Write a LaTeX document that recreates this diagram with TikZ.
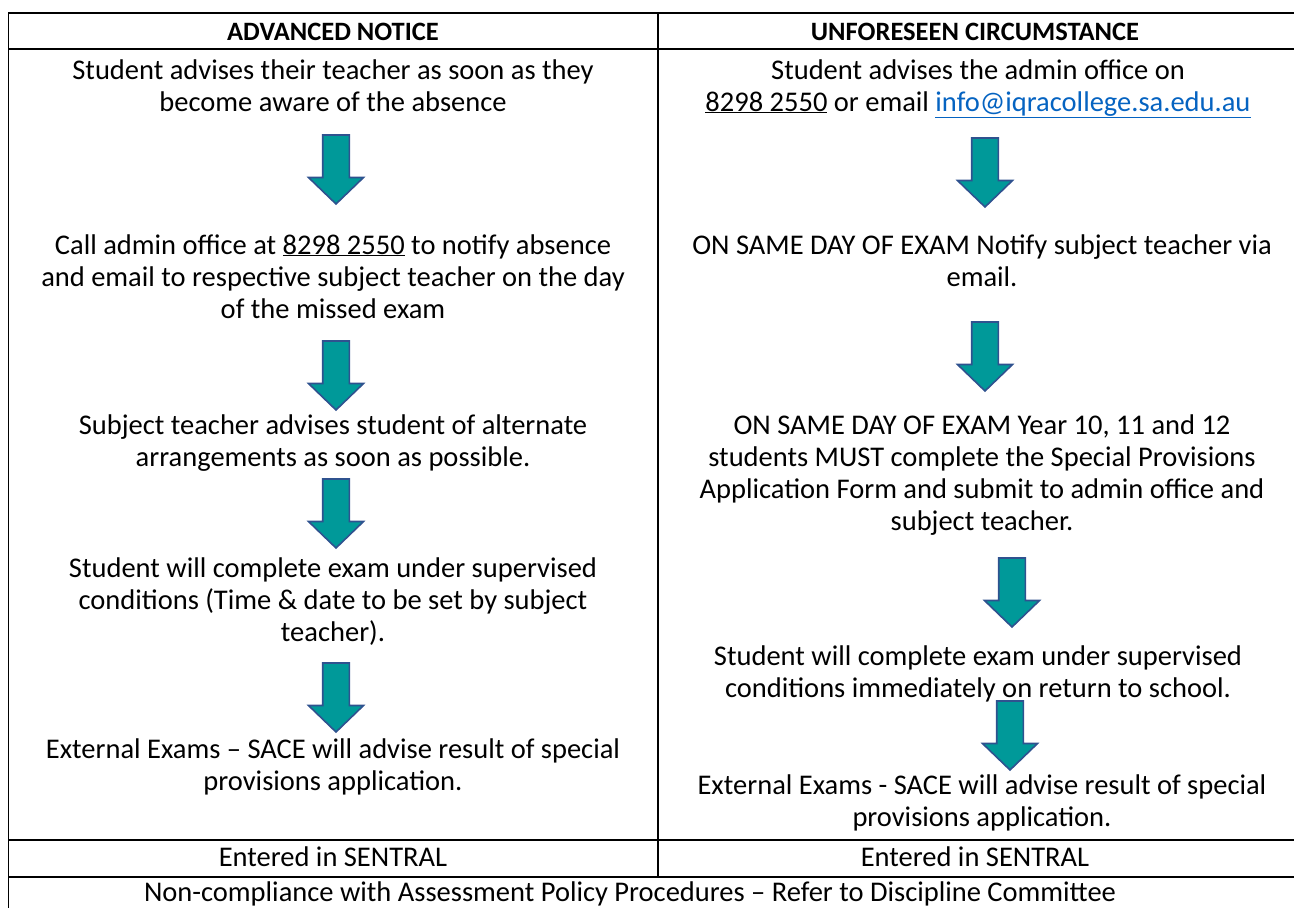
\documentclass[tikz,border=0pt]{standalone}
\usepackage{fontspec}
\setmainfont{Carlito}
\definecolor{arrowfill}{RGB}{0,153,153}
\definecolor{arrowline}{RGB}{47,82,143}
\definecolor{linkblue}{RGB}{5,99,193}

\begin{document}
\begin{tikzpicture}[x=1pt,y=-1pt,
  cell/.style={align=center, font=\fontsize{28.5}{32}\selectfont, inner sep=0pt, anchor=base},
  headcell/.style={cell, font=\fontsize{26.5}{32}\selectfont\bfseries},
  rule/.style={line width=1.6pt},
  blockarrow/.style={fill=arrowfill, draw=arrowline, line width=1.6pt, line join=miter},
  downarrow/.pic={\path[blockarrow] (-13.3,0) -- (13.3,0) -- (13.3,42.5) -- (27.5,42.5) -- (0,69) -- (-27.5,42.5) -- (-13.3,42.5) -- cycle;}
]
\useasboundingbox (0,0) rectangle (1294,908);
\clip (0,0) rectangle (1294,908);

% table rules
\draw[rule] (8.5,13) -- (1300,13);
\draw[rule] (8.5,49) -- (1300,49);
\draw[rule] (8.5,840) -- (1300,840);
\draw[rule] (8.5,877) -- (1300,877);
\draw[rule] (8.5,12.2) -- (8.5,910);
\draw[rule] (657.7,13) -- (657.7,877);

% header row
\node[headcell] (hadv) at (333,40) {ADVANCED NOTICE};
\node[headcell] (hunf) at (975,40) {UNFORESEEN CIRCUMSTANCE};

% advanced notice column (node base = baseline of the last line)
\node[cell] (a1) at (333,111) {Student advises their teacher as soon as they\\become aware of the absence};
\pic (arrA1) at (336,135) {downarrow};
\node[cell] (a2) at (333,318) {Call admin office at \underline{8298 2550} to notify absence\\and email to respective subject teacher on the day\\of the missed exam};
\pic (arrA2) at (336,341) {downarrow};
\node[cell] (a3) at (333,466) {Subject teacher advises student of alternate\\arrangements as soon as possible.};
\pic (arrA3) at (336,479) {downarrow};
\node[cell] (a4) at (333,641) {Student will complete exam under supervised\\conditions (Time \& date to be set by subject\\teacher).};
\pic (arrA4) at (336,663) {downarrow};
\node[cell] (a5) at (333,790) {External Exams -- SACE will advise result of special\\provisions application.};
\node[cell] (a6) at (333,866) {Entered in SENTRAL};

% unforeseen circumstance column
\node[cell] (u1) at (978,111) {Student advises the admin office on\\\underline{8298 2550} or email \textcolor{linkblue}{\underline{info@iqracollege.sa.edu.au}}};
\pic (arrU1) at (985,138) {downarrow};
\node[cell] (u2) at (982,286) {ON SAME DAY OF EXAM Notify subject teacher via\\email.};
\pic (arrU2) at (985,322) {downarrow};
\node[cell] (u3) at (982,530) {ON SAME DAY OF EXAM Year 10, 11 and 12\\students MUST complete the Special Provisions\\Application Form and submit to admin office and\\subject teacher.};
\pic (arrU3) at (1012,558) {downarrow};
\node[cell] (u4) at (978,697) {Student will complete exam under supervised\\conditions immediately on return to school.};
\pic (arrU4) at (1010,701) {downarrow};
\node[cell] (u5) at (982,826) {External Exams - SACE will advise result of special\\provisions application.};
\node[cell] (u6) at (975,866) {Entered in SENTRAL};

% full-width footer row
\node[cell] (foot) at (630,901) {Non-compliance with Assessment Policy Procedures -- Refer to Discipline Committee};
\end{tikzpicture}
\end{document}
